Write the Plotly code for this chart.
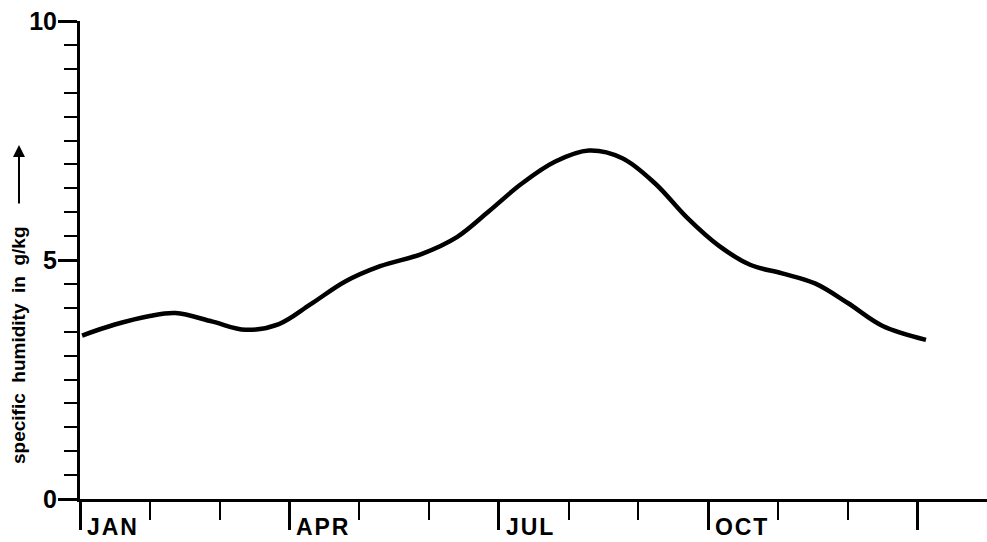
import plotly.graph_objects as go

# Data: month position (0 = start of JAN) and specific humidity in g/kg
months = [0.03, 0.5, 1.0, 1.37, 1.9, 2.37, 2.85, 3.3, 3.8, 4.3, 4.9, 5.4, 5.85,
          6.33, 6.81, 7.29, 7.77, 8.24, 8.7, 9.15, 9.6, 10.06, 10.53, 11.0, 11.5, 12.12]
humidity = [3.42, 3.65, 3.83, 3.89, 3.71, 3.54, 3.66, 4.07, 4.55, 4.87, 5.13, 5.48, 6.01,
            6.60, 7.06, 7.29, 7.13, 6.60, 5.88, 5.30, 4.90, 4.72, 4.51, 4.10, 3.62, 3.33]

month_label_pos = [0, 3, 6, 9]
month_labels = ["JAN", "APR", "JUL", "OCT"]
y_tick_vals = [0, 5, 10]
y_tick_text = ["0", "5", "10"]
y_title = "specific\u00a0\u00a0humidity\u00a0\u00a0in\u00a0\u00a0g/kg"

W, H = 987, 542
L, R, T, B = 80, 0, 21, 43
FONT = "Liberation Sans, Arial, sans-serif"

fig = go.Figure()
fig.add_trace(go.Scatter(
    x=months, y=humidity, mode="lines",
    line=dict(color="black", width=4.5, shape="spline", smoothing=1.0),
    hoverinfo="skip", showlegend=False,
))

fig.update_layout(
    width=W, height=H,
    margin=dict(l=L, r=R, t=T, b=B, pad=0),
    paper_bgcolor="white", plot_bgcolor="white",
    font=dict(family=FONT, color="black"),
    xaxis=dict(
        range=[0, (W - L) / 69.8], showgrid=False, zeroline=False,
        showline=True, linecolor="black", linewidth=3,
        ticks="outside", tickvals=[0, 3, 6, 9, 12], ticklen=28, tickwidth=2.5,
        tickcolor="black", showticklabels=False,
        minor=dict(ticks="outside", dtick=1, tick0=0, ticklen=18, tickwidth=2, tickcolor="black"),
        fixedrange=True,
    ),
    yaxis=dict(
        range=[0, 10], showgrid=False, zeroline=False,
        showline=True, linecolor="black", linewidth=3,
        ticks="outside", tickvals=y_tick_vals, ticktext=y_tick_text,
        ticklen=19, tickwidth=2.5, tickcolor="black",
        tickfont=dict(family=FONT, size=25, color="black", weight="bold"),
        ticklabelstandoff=-4,
        minor=dict(ticks="outside", dtick=0.5, tick0=0, ticklen=13, tickwidth=2, tickcolor="black"),
        fixedrange=True,
    ),
)

plot_w = W - L - R
plot_h = H - T - B

def px_x(px):
    return (px - L) / plot_w

def px_y(py):
    return (H - B - py) / plot_h

# Month labels placed just right of the quarter ticks
for m, lab in zip(month_label_pos, month_labels):
    fig.add_annotation(
        x=m, xref="x", y=px_y(527), yref="paper",
        text="\u200a".join(lab), showarrow=False,
        xanchor="left", yanchor="middle", xshift=5,
        font=dict(family=FONT, size=23, color="black", weight="bold"),
    )

# Y-axis title (rotated)
fig.add_annotation(
    x=px_x(18), xref="paper", y=px_y(345), yref="paper",
    text=y_title, textangle=-90, showarrow=False,
    xanchor="center", yanchor="middle",
    font=dict(family=FONT, size=19, color="black", weight="bold"),
)

# Arrow pointing up beside the title
fig.add_annotation(
    x=px_x(19), xref="paper", y=px_y(145), yref="paper",
    ax=0, ay=60, text="", showarrow=True,
    arrowhead=2, arrowsize=1.2, arrowwidth=2, arrowcolor="black",
)

fig.write_html("out.html")
